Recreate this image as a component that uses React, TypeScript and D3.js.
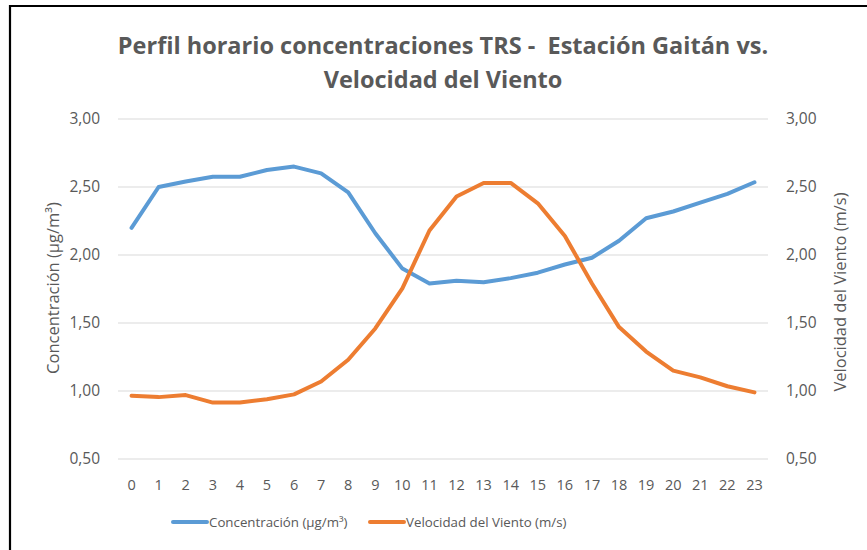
import React, { useEffect, useRef } from 'react';
import * as d3 from 'd3';

const hours = d3.range(0, 24).map(String);
const concentracion = [2.2, 2.5, 2.54, 2.575, 2.575, 2.625, 2.65, 2.6, 2.46, 2.16, 1.9, 1.79, 1.81, 1.8, 1.83, 1.87, 1.93, 1.98, 2.105, 2.27, 2.32, 2.385, 2.45, 2.535];
const viento = [0.965, 0.955, 0.97, 0.915, 0.915, 0.94, 0.975, 1.07, 1.23, 1.46, 1.755, 2.18, 2.43, 2.53, 2.53, 2.38, 2.14, 1.79, 1.47, 1.29, 1.15, 1.1, 1.035, 0.99];
const yTicks = [0.5, 1, 1.5, 2, 2.5, 3];

const W = 867, H = 550;
const grey = '#595959';
const font = 'Open Sans, sans-serif';

const App: React.FC = () => {
  const ref = useRef<SVGSVGElement>(null);

  useEffect(() => {
    if (!ref.current) return;
    const svg = d3.select(ref.current);
    svg.selectAll('*').remove();

    const margin = { top: 119, right: 99, bottom: 91, left: 118 };
    const width = W - margin.left - margin.right;
    const height = H - margin.top - margin.bottom;

    svg.append('rect').attr('width', W).attr('height', H).attr('fill', '#fff');
    // frame (only top and left edges visible)
    svg.append('path')
      .attr('d', `M10,${H} V6 H${W}`)
      .attr('fill', 'none').attr('stroke', '#000').attr('stroke-width', 2.2);

    const fmt = (v: number) => d3.format('.2f')(v).replace('.', ',');

    const x = d3.scaleBand().domain(hours).range([0, width]);
    const y = d3.scaleLinear().domain([0.5, 3]).range([height, 0]);
    const g = svg.append('g').attr('transform', `translate(${margin.left},${margin.top})`);

    // gridlines
    g.selectAll('.grid').data(yTicks).enter().append('line')
      .attr('x1', 0).attr('x2', width)
      .attr('y1', d => y(d)).attr('y2', d => y(d))
      .attr('stroke', '#d9d9d9').attr('stroke-width', 1.2);

    const left = g.append('g').call(d3.axisLeft(y).tickValues(yTicks).tickFormat(d => fmt(+d)).tickSize(0).tickPadding(18));
    left.select('.domain').remove();
    left.selectAll('text').attr('fill', grey).style('font-family', font).style('font-size', '15.5px');

    const right = g.append('g').attr('transform', `translate(${width},0)`)
      .call(d3.axisRight(y).tickValues(yTicks).tickFormat(d => fmt(+d)).tickSize(0).tickPadding(18));
    right.select('.domain').remove();
    right.selectAll('text').attr('fill', grey).style('font-family', font).style('font-size', '15.5px');

    const bottom = g.append('g').attr('transform', `translate(0,${height})`)
      .call(d3.axisBottom(x).tickSize(0).tickPadding(21));
    bottom.select('.domain').remove();
    bottom.selectAll('text').attr('fill', grey).style('font-family', font).style('font-size', '14.5px');

    const cx = (i: number) => (x(hours[i]) ?? 0) + x.bandwidth() / 2;
    const line = d3.line<number>().x((_, i) => cx(i)).y(d => y(d));

    g.append('path').datum(concentracion).attr('d', line)
      .attr('fill', 'none').attr('stroke', '#5B9BD5').attr('stroke-width', 4)
      .attr('stroke-linejoin', 'round').attr('stroke-linecap', 'round');
    g.append('path').datum(viento).attr('d', line)
      .attr('fill', 'none').attr('stroke', '#ED7D31').attr('stroke-width', 4)
      .attr('stroke-linejoin', 'round').attr('stroke-linecap', 'round');

    // title
    const title = svg.append('text').attr('text-anchor', 'middle').attr('fill', grey)
      .style('font-family', font).style('font-size', '23.5px').style('font-weight', 'bold')
      .style('white-space', 'pre');
    title.append('tspan').attr('x', 443).attr('y', 54).text('Perfil horario concentraciones TRS -  Estación Gaitán vs.');
    title.append('tspan').attr('x', 443).attr('y', 88).text('Velocidad del Viento');

    // axis titles
    svg.append('text').attr('transform', `translate(59,288) rotate(-90)`)
      .attr('text-anchor', 'middle').attr('fill', grey)
      .style('font-family', font).style('font-size', '16.5px')
      .text('Concentración (µg/m³)');
    svg.append('text').attr('transform', `translate(846,292) rotate(-90)`)
      .attr('text-anchor', 'middle').attr('fill', grey)
      .style('font-family', font).style('font-size', '16.5px')
      .text('Velocidad del Viento (m/s)');

    // legend
    const legend = [
      { label: 'Concentración (µg/m³)', color: '#5B9BD5', x: 173 },
      { label: 'Velocidad del Viento (m/s)', color: '#ED7D31', x: 370 },
    ];
    const lg = svg.selectAll('.lg').data(legend).enter().append('g')
      .attr('transform', d => `translate(${d.x},522)`);
    lg.append('line').attr('x1', 0).attr('x2', 34).attr('y1', 0).attr('y2', 0)
      .attr('stroke', d => d.color).attr('stroke-width', 4).attr('stroke-linecap', 'round');
    lg.append('text').attr('x', 36).attr('dy', '0.35em').attr('fill', grey)
      .style('font-family', font).style('font-size', '13.3px')
      .text(d => d.label);
  }, []);

  return (
    <svg ref={ref} width={W} height={H}
      style={{ position: 'absolute', left: 0, top: 0, display: 'block' }} />
  );
};

export default App;
